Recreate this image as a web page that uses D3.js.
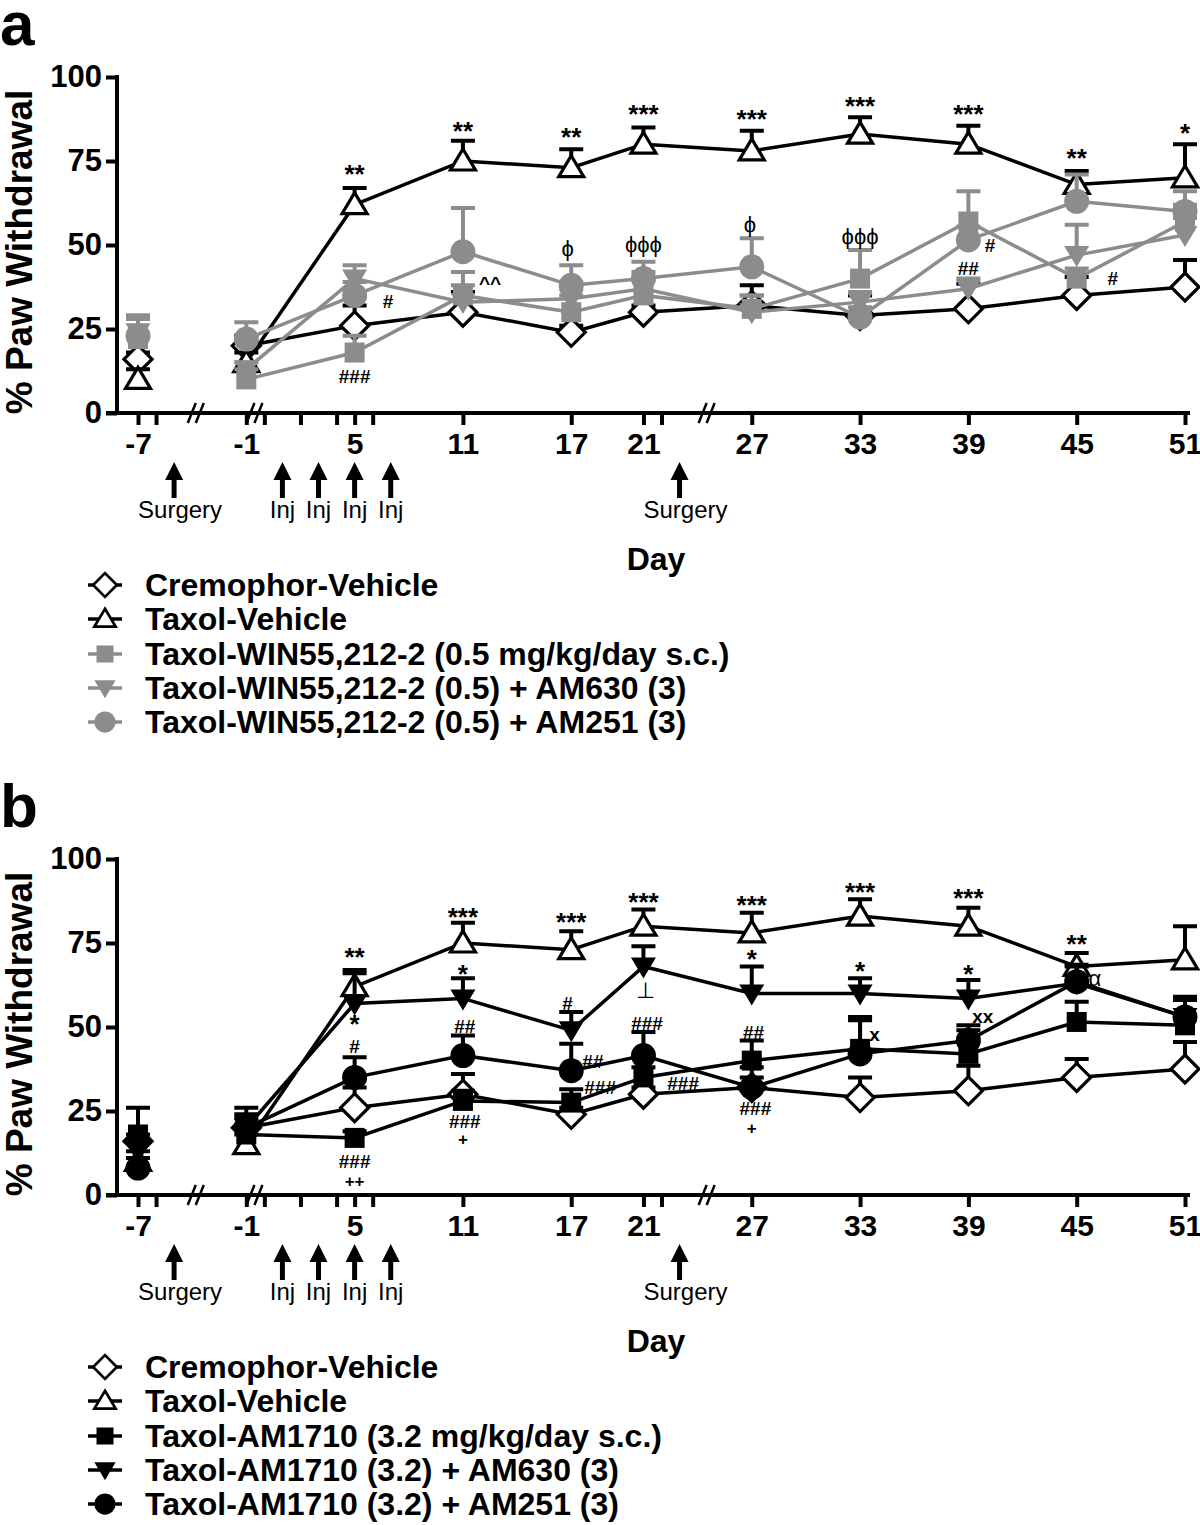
<!DOCTYPE html>
<html lang="en">
<head>
  <title>paw withdrawal</title>
  <script type="text/javascript" src="https://cdn.jsdelivr.net/npm/d3@7"></script>
  <style>
    body { margin: 0px; background: white; }
    svg { display: block; }
    text { font-family: "Liberation Sans", Arial, sans-serif; }
  </style>
</head>
<body>
  <script type="text/javascript">
    // Data (days on x, % paw withdrawal on y)
    var days = [-7, -1, 5, 11, 17, 21, 27, 33, 39, 45, 51];
    var minorDays = [-6, 0, 2, 4, 6, 22];
    var breakDays = [-3.8, -0.55, 24.5];
    var surgeryDays = [-5, 23];
    var injDays = [1, 3, 5, 7];
    var yTicks = [0, 25, 50, 75, 100];

    // shared control groups
    var creVeh = [16, 20, 26, 30, 24, 30, 32, 29, 31, 35, 37.5];
    var creVehErr = [2, 3, 6, 6, 2, 2, 6, 6, 7.5, 5.5, 8];
    var taxVeh = [10, 15, 62, 75, 73, 80, 78, 83, 80, 68, 70];
    var taxVehErr = [3, 3, 5, 6, 5.5, 5, 6, 5, 5.5, 4, 10];

    // panel a
    var win = [22, 10, 18, 35, 30, 35, 31, 40, 57, 40, 57];
    var winErr = [7, 3, 5, 7, 5, 5, 4, 8.5, 9, 3, 5];
    var win630 = [24, 13, 40, 33, 34, 37, 30, 33, 37, 47, 53];
    var win630Err = [5, 2, 4, 5, 5, 5, 5, 3, 3, 9, 5];
    var win251 = [23, 22, 35, 48, 38, 40, 43.5, 28.5, 51.5, 63, 60];
    var win251Err = [5, 5, 4, 13, 6, 5, 8.5, 3, 4, 8, 6];

    // panel b
    var am = [18, 18, 17, 28, 27.5, 35, 40, 43.5, 42, 51.5, 50.5];
    var amErr = [8, 3, 2, 3, 4, 3, 6, 8.5, 7, 6, 8.5];
    var am630 = [13, 20, 57, 58.5, 49, 68, 60, 60, 58.5, 63, 53];
    var am630Err = [3, 4, 9, 6, 5.5, 6, 8, 4.5, 5.5, 5, 5];
    var am251 = [8, 20, 35, 41.5, 37, 41.5, 32, 42, 46, 63.5, 53];
    var am251Err = [3, 6, 6, 6, 8, 7, 3, 11, 4.5, 5, 5];

    var namesA = ["Cremophor-Vehicle", "Taxol-Vehicle", "Taxol-WIN55,212-2 (0.5 mg/kg/day s.c.)",
                  "Taxol-WIN55,212-2 (0.5) + AM630 (3)", "Taxol-WIN55,212-2 (0.5) + AM251 (3)"];
    var namesB = ["Cremophor-Vehicle", "Taxol-Vehicle", "Taxol-AM1710 (3.2 mg/kg/day s.c.)",
                  "Taxol-AM1710 (3.2) + AM630 (3)", "Taxol-AM1710 (3.2) + AM251 (3)"];

    // significance marks: [day, value, text]
    var starsA = [[5, 71.4, "**"], [11, 84.2, "**"], [17, 82.4, "**"], [21, 89.3, "***"], [27, 87.8, "***"],
                  [33, 91.7, "***"], [39, 89.3, "***"], [45, 76.2, "**"], [51, 83.6, "*"]];
    var hashA = [[6.85, 33.3, "#"], [5, 11, "###"], [40.2, 50, "#"], [39, 43.2, "##"], [47, 40.2, "#"],
                 [12.5, 38.7, "^^"]];
    var phiA = [[16.8, 48.8, "ϕ"], [21, 50, "ϕϕϕ"], [26.9, 56, "ϕ"], [33, 52.4, "ϕϕϕ"]];

    var starsB = [[5, 71.2, "**"], [11, 83.1, "***"], [17, 81.6, "***"], [21, 87.5, "***"], [27, 86.6, "***"],
                  [33, 90.5, "***"], [39, 88.7, "***"], [45, 75, "**"],
                  [5, 51.3, "*"], [11, 66.2, "*"], [27, 70.6, "*"], [33, 67, "*"], [39, 66.2, "*"]];
    var hashB = [[5, 44.2, "#"], [5, 10, "###"], [5, 4.2, "++"], [11.1, 50.4, "##"], [11.1, 22, "###"],
                 [11, 16.6, "+"], [16.8, 57, "#"], [18.2, 40, "##"], [18.6, 32, "###"], [21.2, 51.3, "###"],
                 [23.2, 33.2, "###"], [27.1, 48.4, "##"], [27.2, 25.8, "###"], [27, 20, "+"],
                 [33.8, 48, "x"], [39.8, 53.4, "xx"]];
    var otherB = [[21.1, 60.8, "⊥"], [46, 64.4, "α"]];

    var width = 1200, height = 1525;
    var grey = "#8c8c8c";

    var svg = d3.select("body").append("svg")
      .attr("width", width)
      .attr("height", height);

    svg.append("rect").attr("width", width).attr("height", height).attr("fill", "white");

    var x = d3.scaleLinear().domain([-7, 51]).range([138, 1185]);

    var shapes = {
      diamond: "M0,-14L14,0L0,14L-14,0Z",
      up: "M0,-12L12.5,9L-12.5,9Z",
      down: "M0,12L12.5,-9L-12.5,-9Z",
      square: "M-10,-10H10V10H-10Z"
    };

    function addMarker(g, kind, col, open) {
      if (kind == "circle") {
        return g.append("circle").attr("r", 12.5).attr("fill", col);
      }
      return g.append("path").attr("d", shapes[kind])
        .attr("fill", open ? "white" : col)
        .attr("stroke", col)
        .attr("stroke-width", open ? 3.2 : 0)
        .attr("stroke-linejoin", "miter");
    }

    function drawPanel(top, letter, series, names, stars, hashes, others) {
      var y = d3.scaleLinear().domain([0, 100]).range([top + 336, top]);
      var g = svg.append("g");

      g.append("text").attr("x", 0).attr("y", top - 32)
        .attr("font-size", 62).attr("font-weight", "bold").text(letter);

      // y axis
      var yAxis = g.append("g").attr("transform", "translate(117,0)")
        .call(d3.axisLeft(y).tickValues(yTicks).tickSize(11).tickPadding(4));
      yAxis.select(".domain").attr("stroke-width", 4).attr("d", "M0," + (y(0) + 2) + "V" + (y(100) - 2));
      yAxis.selectAll(".tick line").attr("stroke-width", 4);
      yAxis.selectAll(".tick text").attr("font-size", 31).attr("font-weight", "bold")
        .attr("font-family", "Liberation Sans, Arial, sans-serif").attr("fill", "black");

      g.append("text")
        .attr("transform", "translate(32," + (top + 175) + ") rotate(-90)")
        .attr("text-anchor", "middle").attr("font-size", 37).attr("font-weight", "bold")
        .text("% Paw Withdrawal");

      // x axis
      var xg = g.append("g").attr("transform", "translate(0," + y(0) + ")");
      xg.call(d3.axisBottom(x).tickValues(days).tickSize(12).tickPadding(8).tickFormat(d3.format("d")));
      xg.select(".domain").attr("stroke-width", 4).attr("d", "M106,0H1190");
      xg.selectAll(".tick line").attr("stroke-width", 4);
      xg.selectAll(".tick text").attr("font-size", 30).attr("font-weight", "bold")
        .attr("font-family", "Liberation Sans, Arial, sans-serif").attr("fill", "black")
        .text(function (d) { return d < 0 ? "-" + Math.abs(d) : d; });
      var mg = g.append("g").attr("transform", "translate(0," + y(0) + ")");
      mg.call(d3.axisBottom(x).tickValues(minorDays).tickSize(12).tickFormat(""));
      mg.select(".domain").remove();
      mg.selectAll(".tick line").attr("stroke-width", 4);

      // axis breaks
      breakDays.forEach(function (d) {
        [-4, 4].forEach(function (off) {
          g.append("line")
            .attr("x1", x(d) + off - 4).attr("y1", y(0) + 10)
            .attr("x2", x(d) + off + 4).attr("y2", y(0) - 10)
            .attr("stroke", "black").attr("stroke-width", 2.5);
        });
      });

      // arrows
      var arrows = surgeryDays.map(function (d) { return [d, "Surgery"]; })
        .concat(injDays.map(function (d) { return [d, "Inj"]; }));
      arrows.forEach(function (a) {
        var ax = x(a[0]), ay = y(0) + 49;
        g.append("line").attr("x1", ax).attr("x2", ax).attr("y1", ay + 36).attr("y2", ay + 14)
          .attr("stroke", "black").attr("stroke-width", 5);
        g.append("path").attr("d", "M" + ax + "," + ay + "l9,18h-18z").attr("fill", "black");
        g.append("text").attr("x", ax + (a[1] == "Surgery" ? 6 : 0)).attr("y", ay + 56)
          .attr("text-anchor", "middle").attr("font-size", 24).text(a[1]);
      });

      g.append("text").attr("x", 656).attr("y", y(0) + 157).attr("text-anchor", "middle")
        .attr("font-size", 32).attr("font-weight", "bold").text("Day");

      // series: lines, error bars, markers
      series.forEach(function (s) {
        var pts = days.map(function (d, i) { return { d: d, v: s.values[i], e: s.err[i] }; });
        var line = d3.line().x(function (p) { return x(p.d); }).y(function (p) { return y(p.v); });
        var sg = g.append("g");
        sg.append("path").datum(pts.slice(1)).attr("d", line)
          .attr("fill", "none").attr("stroke", s.color).attr("stroke-width", 3.5);
        sg.selectAll(".err").data(pts).enter().append("path")
          .attr("d", function (p) {
            var top2 = y(p.v + p.e);
            return "M" + x(p.d) + "," + y(p.v) + "V" + top2 + "M" + (x(p.d) - 12) + "," + top2 + "H" + (x(p.d) + 12);
          })
          .attr("fill", "none").attr("stroke", s.color).attr("stroke-width", 4);
        pts.forEach(function (p) {
          addMarker(sg, s.shape, s.color, s.open)
            .attr("transform", "translate(" + x(p.d) + "," + y(p.v) + ")");
        });
      });

      // significance marks
      stars.forEach(function (t) {
        g.append("text").attr("x", x(t[0])).attr("y", y(t[1]) + 10).attr("text-anchor", "middle")
          .attr("font-size", 26).attr("font-weight", "bold").text(t[2]);
      });
      hashes.forEach(function (t) {
        var small = t[2].charAt(0) == "+";
        g.append("text").attr("x", x(t[0])).attr("y", y(t[1]) + (small ? 6 : 7)).attr("text-anchor", "middle")
          .attr("font-size", small ? 17 : 19).attr("font-weight", "bold").text(t[2]);
      });
      others.forEach(function (t) {
        g.append("text").attr("x", x(t[0])).attr("y", y(t[1]) + 7).attr("text-anchor", "middle")
          .attr("font-size", 22).text(t[2]);
      });

      // legend
      var ly0 = y(0) + 172;
      var legendY = [0, 34, 69, 103, 137];
      series.forEach(function (s, i) {
        var lg = g.append("g").attr("transform", "translate(105," + (ly0 + legendY[i]) + ")");
        lg.append("line").attr("x1", -17).attr("x2", 17).attr("stroke", s.color).attr("stroke-width", 3.5);
        addMarker(lg, s.shape, s.color, s.open).attr("transform", "scale(0.85)");
        g.append("text").attr("x", 145).attr("y", ly0 + legendY[i] + 11)
          .attr("font-size", 32).attr("font-weight", "bold").text(names[i]);
      });
    }

    var seriesA = [
      { values: creVeh, err: creVehErr, shape: "diamond", color: "black", open: true },
      { values: taxVeh, err: taxVehErr, shape: "up", color: "black", open: true },
      { values: win, err: winErr, shape: "square", color: grey, open: false },
      { values: win630, err: win630Err, shape: "down", color: grey, open: false },
      { values: win251, err: win251Err, shape: "circle", color: grey, open: false }
    ];
    var seriesB = [
      { values: creVeh, err: creVehErr, shape: "diamond", color: "black", open: true },
      { values: taxVeh, err: taxVehErr, shape: "up", color: "black", open: true },
      { values: am, err: amErr, shape: "square", color: "black", open: false },
      { values: am630, err: am630Err, shape: "down", color: "black", open: false },
      { values: am251, err: am251Err, shape: "circle", color: "black", open: false }
    ];

    drawPanel(77, "a", seriesA, namesA, starsA, hashA, phiA);
    drawPanel(859, "b", seriesB, namesB, starsB, hashB, otherB);
  </script>
</body>
</html>
